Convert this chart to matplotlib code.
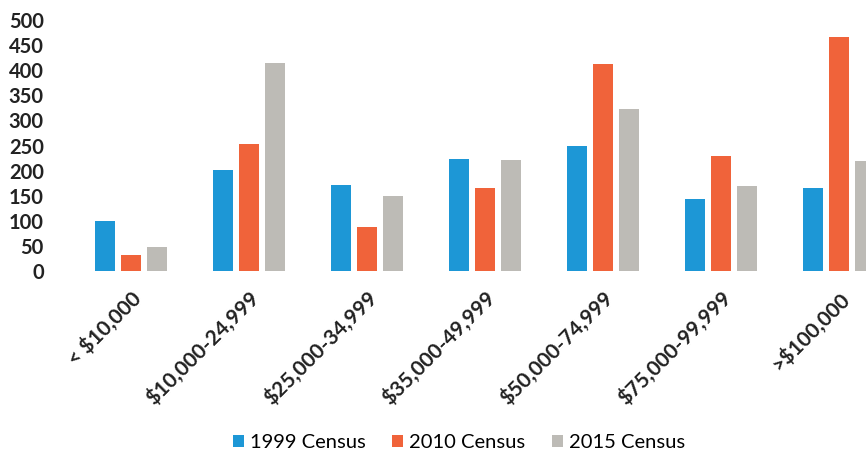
import matplotlib.pyplot as plt
import numpy as np

categories = ["< $10,000", "$10,000-24,999", "$25,000-34,999", "$35,000-49,999",
              "$50,000-74,999", "$75,000-99,999", ">$100,000"]
census_1999 = [100, 201, 171, 223, 249, 143, 165]
census_2010 = [32, 253, 88, 165, 412, 229, 466]
census_2015 = [47, 414, 149, 221, 323, 169, 219]
series_labels = ["1999 Census", "2010 Census", "2015 Census"]
yticks = [0, 50, 100, 150, 200, 250, 300, 350, 400, 450, 500]

colors = ["#1d97d6", "#f0633a", "#bdbbb6"]

plt.rcParams["font.family"] = ["Lato", "DejaVu Sans"]

fig = plt.figure(figsize=(8.66, 4.55), dpi=100)
ax = fig.add_axes([66 / 866, (455 - 271) / 455, 800 / 866, 251 / 455])

x = np.arange(len(categories))
width = 0.17
step = 0.22
for i, (vals, lab) in enumerate(zip([census_1999, census_2010, census_2015], series_labels)):
    ax.bar(x + (i - 1) * step, vals, width, color=colors[i], label=lab)

ax.set_xlim(-0.55, 6.23)
ax.set_ylim(0, 500)
ax.set_yticks(yticks)
ax.set_yticklabels([str(v) for v in yticks], fontsize=14.5, fontweight="bold", color="#222222")
ax.set_xticks(x)
ax.set_xticklabels(categories, rotation=45, ha="right", va="top", rotation_mode="anchor",
                   fontsize=15, fontweight="bold", color="#222222")
ax.tick_params(axis="both", length=0)
ax.tick_params(axis="x", pad=12)
ax.tick_params(axis="y", pad=16)
for s in ax.spines.values():
    s.set_visible(False)

fig.legend(loc="lower center", bbox_to_anchor=(0.53, -0.032), ncol=3, frameon=False,
           fontsize=14.5, handlelength=0.55, handleheight=0.55, handletextpad=0.3,
           columnspacing=1.3)

fig.savefig("out.png", dpi=100)
